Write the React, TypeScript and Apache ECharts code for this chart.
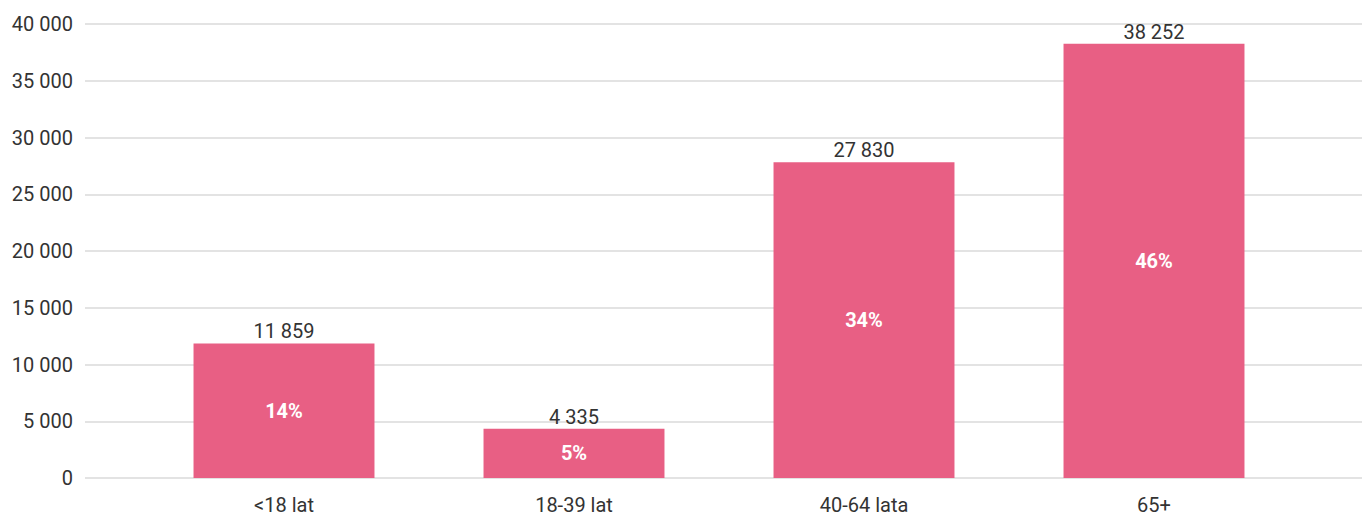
import React, { useEffect, useRef } from "react";
import * as echarts from "echarts";

const categories = ["<18 lat", "18-39 lat", "40-64 lata", "65+"];
const values = [11859, 4335, 27830, 38252];
const shareLabels = ["14%", "5%", "34%", "46%"];
const yTicks = { min: 0, max: 40000, interval: 5000 };

const TEXT = "#333333";
const GRID_LINE = "#dadada";
const BAR = "#e85f84";
const FONT = "Roboto, 'Noto Sans', sans-serif";
const SIZE = 20;

const fmt = (v: number) => String(v).replace(/\B(?=(\d{3})+(?!\d))/g, " ");

export default function App() {
  const ref = useRef<HTMLDivElement>(null);

  useEffect(() => {
    document.body.style.margin = "0";
    if (!ref.current) return;
    const chart = echarts.init(ref.current, null, { renderer: "svg" });
    chart.setOption({
      animation: false,
      textStyle: { fontFamily: FONT },
      grid: [
        // full-width grid carrying the value scale and its gridlines
        { left: 85, right: 0, top: 24, bottom: 38 },
        // narrower grid holding the bars
        { left: 139, right: 63, top: 24, bottom: 38 },
      ],
      xAxis: [
        { gridIndex: 0, type: "value", show: false, min: 0, max: 1 },
        {
          gridIndex: 1,
          type: "category",
          data: categories,
          axisLine: { show: false },
          axisTick: { show: false },
          axisLabel: { color: TEXT, fontSize: SIZE, margin: 17, fontFamily: FONT },
        },
      ],
      yAxis: [
        {
          gridIndex: 0,
          type: "value",
          ...yTicks,
          axisLine: { show: false },
          axisTick: { show: false },
          axisLabel: {
            color: TEXT,
            fontSize: SIZE,
            margin: 12,
            fontFamily: FONT,
            formatter: (v: number) => fmt(v),
          },
          splitLine: { lineStyle: { color: GRID_LINE, width: 1.5 } },
        },
        {
          gridIndex: 1,
          type: "value",
          ...yTicks,
          show: false,
          splitLine: { show: false },
        },
      ],
      series: [
        {
          type: "bar",
          xAxisIndex: 1,
          yAxisIndex: 1,
          data: values,
          barWidth: "62.4%",
          itemStyle: { color: BAR },
          label: {
            show: true,
            position: "top",
            distance: 2,
            color: TEXT,
            fontSize: SIZE,
            fontFamily: FONT,
            formatter: (p: any) => fmt(p.value),
          },
        },
        {
          // share labels centred inside the bars
          type: "bar",
          xAxisIndex: 1,
          yAxisIndex: 1,
          data: values,
          barWidth: "62.4%",
          barGap: "-100%",
          itemStyle: { color: "transparent" },
          label: {
            show: true,
            position: "inside",
            color: "#ffffff",
            fontWeight: "bold",
            fontSize: SIZE,
            fontFamily: FONT,
            formatter: (p: any) => shareLabels[p.dataIndex],
          },
          silent: true,
        },
      ],
    });
    return () => chart.dispose();
  }, []);

  return <div ref={ref} style={{ width: 1362, height: 516 }} />;
}
